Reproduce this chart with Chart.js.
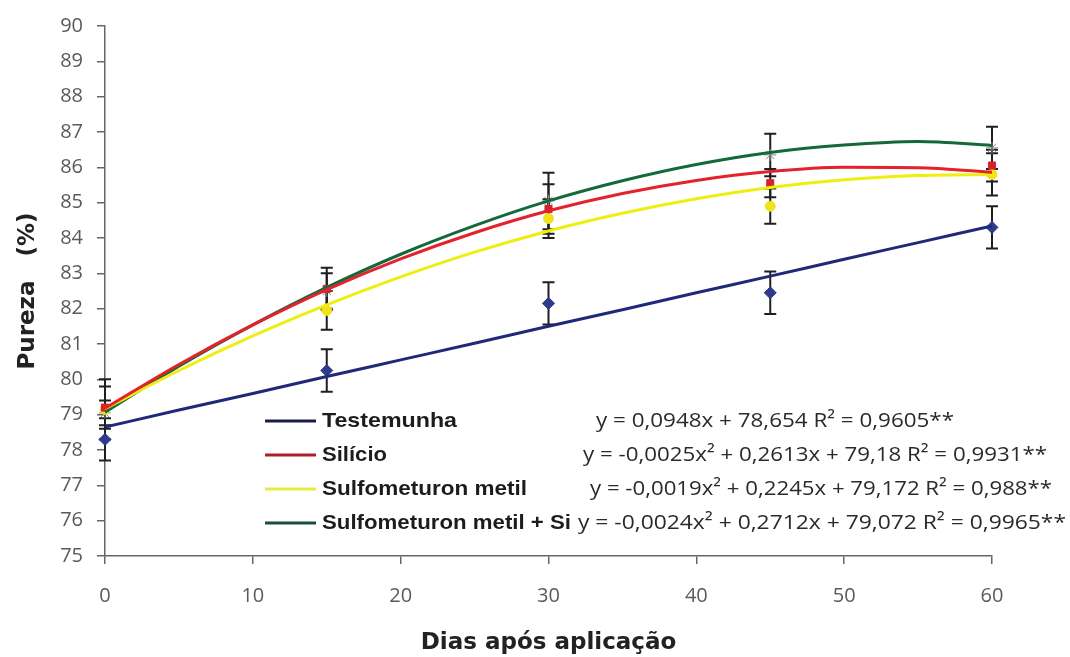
<!DOCTYPE html>
<html>
<head>
<meta charset="utf-8">
<script src="https://cdn.jsdelivr.net/npm/chart.js@4.4.1/dist/chart.umd.min.js"></script>
<style>
  html, body { margin: 0; padding: 0; background: #fff; }
  #wrap { width: 1070px; height: 657px; }
</style>
</head>
<body>
<div id="wrap"><canvas id="chart" width="1070" height="657"></canvas></div>
<script>
// days after application (observed points)
const days = [0, 15, 30, 45, 60];
// days used to draw the fitted curves
const trendDays = [0, 5, 10, 15, 20, 25, 30, 35, 40, 45, 50, 55, 60];

const seriesNames = ['Testemunha', 'Silício', 'Sulfometuron metil', 'Sulfometuron metil + Si'];
const equations = [
  'y = 0,0948x + 78,654 R² = 0,9605**',
  'y = -0,0025x² + 0,2613x + 79,18 R² = 0,9931**',
  'y = -0,0019x² + 0,2245x + 79,172 R² = 0,988**',
  'y = -0,0024x² + 0,2712x + 79,072 R² = 0,9965**'
];

// observed means and error bars
const testemunhaObs = [78.3, 80.25, 82.15, 82.45, 84.3];
const testemunhaErr = [0.6, 0.6, 0.6, 0.6, 0.6];
const silicioObs = [79.2, 82.56, 84.82, 85.55, 86.05];
const silicioErr = [0.6, 0.6, 0.7, 0.4, 0.45];
const sulfoObs = [79.15, 81.95, 84.55, 84.9, 85.8];
const sulfoErr = [0.85, 0.55, 0.55, 0.5, 0.6];
const sulfoSiObs = [79.05, 82.5, 85.05, 86.35, 86.55];
const sulfoSiErr = [0.35, 0.5, 0.8, 0.6, 0.6];

// fitted curves
const testemunhaTrend = [78.65, 79.13, 79.6, 80.08, 80.55, 81.02, 81.5, 81.97, 82.45, 82.92, 83.4, 83.87, 84.34];
const silicioTrend = [79.18, 80.42, 81.54, 82.54, 83.41, 84.15, 84.77, 85.26, 85.63, 85.88, 86.0, 85.99, 85.86];
const sulfoTrend = [79.17, 80.25, 81.23, 82.11, 82.9, 83.6, 84.2, 84.7, 85.11, 85.43, 85.65, 85.77, 85.8];
const sulfoSiTrend = [79.07, 80.37, 81.54, 82.6, 83.54, 84.35, 85.05, 85.62, 86.08, 86.42, 86.63, 86.73, 86.62];

const yTicks = [75, 76, 77, 78, 79, 80, 81, 82, 83, 84, 85, 86, 87, 88, 89, 90];
const xTicks = [0, 10, 20, 30, 40, 50, 60];

const lineColors = ['#1e2a78', '#e3222b', '#eeee10', '#13693a'];
const legendColors = ['#1a1d45', '#a8222d', '#e8ec40', '#18513a'];

const observed = [
  { values: testemunhaObs, err: testemunhaErr, color: '#2e3a8c', style: 'rectRot', r: 6 },
  { values: silicioObs, err: silicioErr, color: '#d8202c', style: 'rect', r: 5 },
  { values: sulfoObs, err: sulfoErr, color: '#f0e21c', style: 'circle', r: 5 },
  { values: sulfoSiObs, err: sulfoSiErr, color: '#8a8a8a', style: 'star', r: 6 }
];
const trends = [testemunhaTrend, silicioTrend, sulfoTrend, sulfoSiTrend];

const toPoints = (xs, ys) => xs.map((d, i) => ({ x: d, y: ys[i] }));

const datasets = [];
trends.forEach((t, i) => {
  datasets.push({
    label: seriesNames[i],
    data: toPoints(trendDays, t),
    borderColor: lineColors[i],
    borderWidth: 3,
    pointRadius: 0,
    tension: 0.4,
    cubicInterpolationMode: 'monotone',
    fill: false
  });
});
observed.forEach((s, i) => {
  datasets.push({
    label: seriesNames[i] + ' (obs)',
    data: toPoints(days, s.values),
    showLine: false,
    clip: false,
    pointStyle: s.style,
    pointRadius: s.r,
    pointBackgroundColor: s.color,
    pointBorderColor: s.color,
    pointBorderWidth: 1
  });
});

const errorBars = {
  id: 'errorBars',
  beforeDatasetsDraw(chart) {
    const { ctx, scales: { x, y } } = chart;
    ctx.save();
    ctx.strokeStyle = '#1f1f1f';
    ctx.lineWidth = 2;
    observed.forEach(s => {
      s.values.forEach((v, i) => {
        const px = x.getPixelForValue(days[i]);
        const top = y.getPixelForValue(v + s.err[i]);
        const bot = y.getPixelForValue(v - s.err[i]);
        ctx.beginPath();
        ctx.moveTo(px, top); ctx.lineTo(px, bot);
        ctx.moveTo(px - 6, top); ctx.lineTo(px + 6, top);
        ctx.moveTo(px - 6, bot); ctx.lineTo(px + 6, bot);
        ctx.stroke();
      });
    });
    ctx.restore();
  }
};

// legend + equations sit inside the plot, lower right
const legendRows = [421, 455, 489, 523];
const nameWidth = [135, 65, 205, 249];
const eqStart = [596, 583, 590, 578];
const eqWidth = [358, 464, 462, 488];

// draw text stretched horizontally to a given width
function fitText(ctx, text, x, y, width) {
  const w = ctx.measureText(text).width;
  ctx.save();
  ctx.translate(x, y);
  ctx.scale(width / w, 1);
  ctx.fillText(text, 0, 0);
  ctx.restore();
}

const insideLegend = {
  id: 'insideLegend',
  afterDraw(chart) {
    const { ctx } = chart;
    ctx.save();
    ctx.textBaseline = 'middle';
    ctx.textAlign = 'left';
    seriesNames.forEach((name, i) => {
      const yy = legendRows[i];
      ctx.strokeStyle = legendColors[i];
      ctx.lineWidth = 3;
      ctx.beginPath();
      ctx.moveTo(265, yy);
      ctx.lineTo(316, yy);
      ctx.stroke();
      ctx.fillStyle = '#1c1c1c';
      ctx.font = "bold 21px 'Liberation Sans'";
      fitText(ctx, name, 322, yy, nameWidth[i]);
      ctx.font = "20px 'Open Sans'";
      ctx.fillStyle = '#2a2a2a';
      fitText(ctx, equations[i], eqStart[i], yy, eqWidth[i]);
    });
    ctx.restore();
  }
};

Chart.defaults.font.family = "'Open Sans', sans-serif";
Chart.defaults.color = '#555';

new Chart(document.getElementById('chart').getContext('2d'), {
  type: 'line',
  data: { datasets },
  options: {
    responsive: false,
    animation: false,
    layout: { padding: { top: 23, right: 78, left: 0, bottom: 0 } },
    plugins: {
      legend: { display: false },
      tooltip: { enabled: false }
    },
    scales: {
      x: {
        type: 'linear',
        min: 0,
        max: 60,
        afterFit(scale) { scale.height = 101; },
        afterBuildTicks(scale) { scale.ticks = xTicks.map(v => ({ value: v })); },
        ticks: { padding: 20, font: { size: 20 }, color: '#5a5a5a' },
        grid: { drawOnChartArea: false, tickLength: 8, color: '#666', lineWidth: 1.5 },
        border: { color: '#666', width: 1.5 },
        title: {
          display: true,
          text: 'Dias após aplicação',
          font: { family: "'DejaVu Sans'", size: 23, weight: 'bold' },
          color: '#222',
          padding: { top: 0, bottom: 0 }
        }
      },
      y: {
        min: 75,
        max: 90,
        afterFit(scale) { scale.width = 105; },
        afterBuildTicks(scale) { scale.ticks = yTicks.map(v => ({ value: v })); },
        ticks: { padding: 14, font: { size: 20 }, color: '#5a5a5a' },
        grid: { drawOnChartArea: false, tickLength: 8, color: '#666', lineWidth: 1.5 },
        border: { color: '#666', width: 1.5 },
        title: {
          display: true,
          text: 'Pureza   (%)',
          font: { family: "'DejaVu Sans'", size: 23, weight: 'bold' },
          color: '#222',
          padding: { top: 14, bottom: 0 }
        }
      }
    }
  },
  plugins: [errorBars, insideLegend]
});
</script>
</body>
</html>
